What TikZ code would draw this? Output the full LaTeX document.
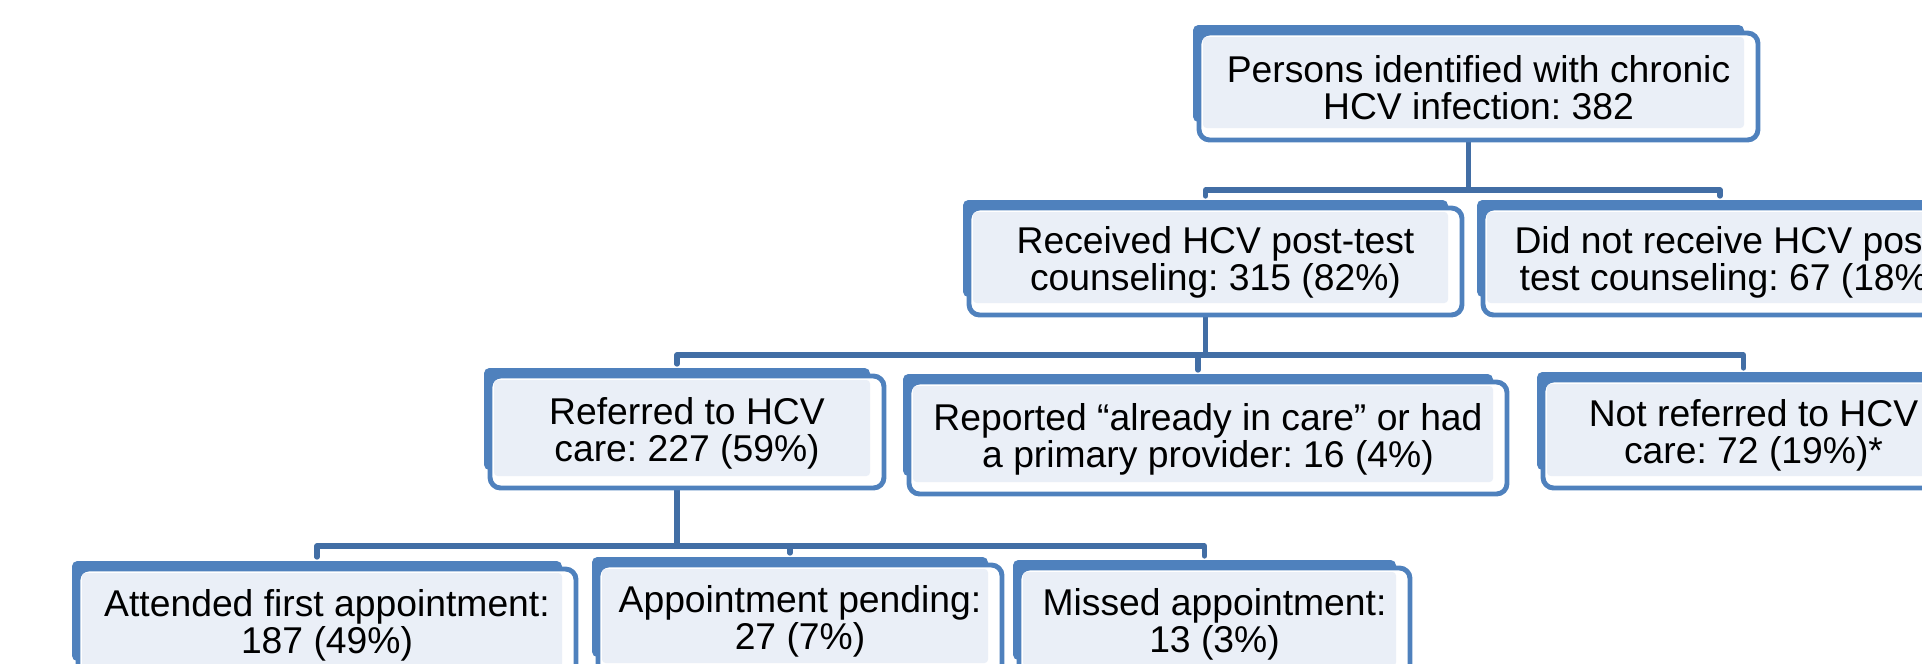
\documentclass[tikz,border=0pt]{standalone}
\usepackage{fontspec}
\setmainfont{Liberation Sans}
\usetikzlibrary{calc}
\frenchspacing

\definecolor{boxblue}{RGB}{79,129,189}
\definecolor{boxlight}{RGB}{234,239,247}
\definecolor{connblue}{RGB}{66,110,165}

\tikzset{
  backbox/.style={fill=boxblue, rounded corners=1.5pt},
  frontbox/.style={draw=boxblue, fill=white, line width=1.4pt, rounded corners=3pt},
  lightbox/.style={fill=boxlight, rounded corners=1pt},
  boxtext/.style={align=center, inner sep=0pt, font=\fontsize{10.6}{10.5}\selectfont},
  conn/.style={draw=connblue, line width=1.5pt},
}

\begin{document}
\begin{tikzpicture}[line cap=round,line join=round,x=0.01cm,y=-0.01cm]
\useasboundingbox (0,0) rectangle (1922,663);
\clip (0,0) rectangle (1922,663);
% hook points of the boxes
\foreach \nm/\a/\b/\c/\d in {A/1193/25/1744/122, B/963/200/1448/297, C/1477/200/1963/297,
  D/484/368/870/470, E/903/374/1493/476, F/1537/372/1950/470,
  G/72/561/562/661, H/592/557/988/657, I/1013/560/1396/660}
{
  \coordinate (\nm-in) at ({(\a+\c)/2},\b-4);
  \coordinate (\nm-out) at ({(\a+\c)/2},\d+18);
}
% connectors
\foreach \p/\q/\h in {A/B/50, A/C/50, B/D/40, B/E/40, B/F/40, D/G/58, D/H/58, D/I/58}
  \draw[conn] (\p-out) -- ++(0,\h) -| (\q-in);
% boxes
\foreach \nm/\a/\b/\c/\d/\txt in {
  A/1193/25/1744/122/{Persons identified with chronic\\HCV infection: 382},
  B/963/200/1448/297/{Received HCV post-test\\counseling: 315 (82\%)},
  C/1477/200/1963/297/{Did not receive HCV post-\\test counseling: 67 (18\%)},
  D/484/368/870/470/{Referred to HCV\\care: 227 (59\%)},
  E/903/374/1493/476/{Reported “already in care” or had\\a primary provider: 16 (4\%)},
  F/1537/372/1950/470/{Not referred to HCV\\care: 72 (19\%)*},
  G/72/561/562/661/{Attended first appointment:\\187 (49\%)},
  H/592/557/988/657/{Appointment pending:\\27 (7\%)},
  I/1013/560/1396/660/{Missed appointment:\\13 (3\%)}}
{
  \fill[backbox] (\a,\b) rectangle (\c,\d);
  \draw[frontbox] (\a+6,\b+8) rectangle (\c+14,\d+18);
  \fill[lightbox] (\a+10,\b+12) rectangle (\c,\d+6);
  \node[boxtext] (\nm) at ({(\a+\c+20)/2},{(\b+\d+28)/2}) {\txt};
}
\end{tikzpicture}
\end{document}
